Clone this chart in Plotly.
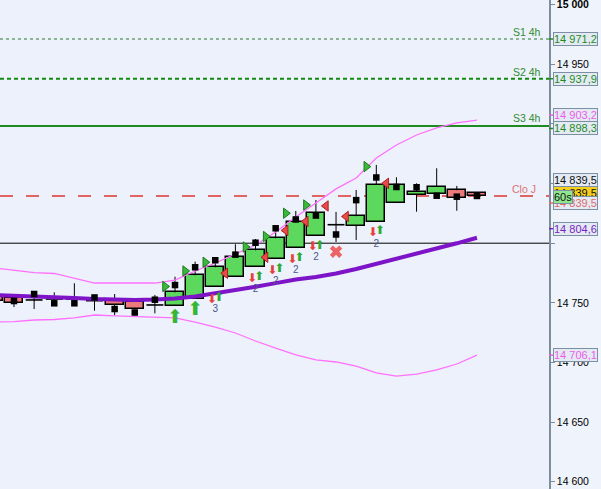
import plotly.graph_objects as go

# ---------------- data ----------------
idx = list(range(-1, 24))
opens = [14754.9, 14754.0, 14752.4, 14753.2, 14753.2, 14751.8, 14751.5, 14750.4, 14748.2, 14747.6,
         14753.0, 14763.0, 14771.4, 14779.8, 14786.5, 14795.7, 14806.3, 14815.5, 14814.7, 14818.0,
         14833.5, 14840.7, 14841.5, 14844.4, 14842.1]
closes = [14751.5, 14749.9, 14752.4, 14753.2, 14753.2, 14751.8, 14748.2, 14744.6, 14748.2, 14758.8,
          14773.1, 14779.8, 14788.2, 14794.0, 14804.1, 14817.5, 14825.1, 14815.5, 14822.6, 14848.8,
          14848.8, 14842.9, 14847.1, 14838.2, 14839.5]
highs = [14754.9, 14754.0, 14759.1, 14758.8, 14766.4, 14756.6, 14757.4, 14750.4, 14756.6, 14771.9,
         14784.5, 14785.9, 14799.1, 14803.5, 14812.5, 14827.0, 14836.2, 14826.2, 14844.6, 14865.6,
         14855.3, 14850.2, 14862.8, 14848.0, 14842.9]
lows = [14751.5, 14746.5, 14744.8, 14749.0, 14749.0, 14743.4, 14739.8, 14739.2, 14741.2, 14747.6,
        14753.0, 14763.0, 14771.4, 14779.8, 14786.5, 14795.7, 14806.3, 14801.0, 14802.7, 14818.0,
        14833.5, 14826.4, 14837.9, 14827.2, 14837.5]
squares = [None, 14751.5, 14757.4, 14749.6, 14749.6, 14754.5, 14744.8, 14741.9, 14752.6, 14764.9,
           14779.8, 14785.7, 14790.4, 14800.4, 14812.5, 14819.9, 14823.2, 14807.3, 14836.1, 14855.1,
           14847.1, 14846.9, 14839.8, 14839.0, 14839.6]
upper_band = [14779.2, 14777.5, 14775.4, 14774.6, 14770.8, 14766.6, 14766.6, 14766.6, 14766.6, 14769.1,
              14776.7, 14783.4, 14790.9, 14798.5, 14809.4, 14822.0, 14833.7, 14845.5, 14854.7, 14871.4,
              14882.3, 14890.7, 14896.6, 14900.8, 14903.2]
lower_band = [14733.9, 14734.3, 14735.6, 14736.0, 14737.3, 14739.8, 14739.0, 14738.4, 14738.1, 14737.3,
              14733.9, 14729.7, 14724.7, 14718.0, 14712.1, 14706.3, 14702.1, 14700.4, 14697.0, 14691.2,
              14688.6, 14690.3, 14693.7, 14698.7, 14706.1]
ma_line = [14756.6, 14756.1, 14755.3, 14754.9, 14754.0, 14753.2, 14752.4, 14752.4, 14752.8, 14753.6,
           14755.3, 14757.8, 14760.6, 14763.5, 14766.5, 14769.6, 14771.7, 14774.6, 14778.4, 14782.6,
           14787.3, 14791.5, 14795.7, 14799.9, 14804.6]

# signals
bull_tri_idx = [8, 9, 10, 12, 13, 14, 15, 18]
bull_tri_val = [14763.7, 14776.7, 14784.0, 14796.8, 14805.6, 14825.1, 14832.0, 14864.2]
bear_tri_idx = [10, 12, 13, 14, 15, 16, 18]
bear_tri_val = [14774.8, 14788.2, 14810.7, 14818.2, 14831.2, 14822.4, 14850.2]
pair_idx = [10, 12, 13, 14, 15, 18]
down_arrow_val = [14752.4, 14769.7, 14776.9, 14785.9, 14796.6, 14808.3]
up_arrow_val = [14753.8, 14771.4, 14778.4, 14787.3, 14797.9, 14810.2]
count_text = ["3", "2", "2", "2", "2", "2"]
count_val = [14744.0, 14761.3, 14767.7, 14776.9, 14787.8, 14799.1]
big_up_idx = [8, 9]
big_up_val = [14736.9, 14744.0]
cross_idx = [16]
cross_val = [14792.9]

level_names = ["S1 4h", "S2 4h", "S3 4h", "Clo J"]
level_vals = [14971.2, 14937.9, 14898.3, 14839.5]
round_line = 14800

tick_vals = [14600, 14650, 14700, 14750, 14800, 14850, 14900, 14950, 15000]
tick_text = ["14 600", "14 650", "14 700", "14 750", "", "14 850", "14 900", "14 950", "<b>15 000</b>"]

# axis label boxes
box_text = ["14 971,2", "14 937,9", "14 903,2", "14 898,3", "14 839,5", "14 839,5", "14 839,5", "60s", "14 804,6", "14 706,1"]
box_vals = [14971.2, 14937.9, 14903.2, 14898.3, 14839.5, 14839.5, 14839.5, 14839.5, 14804.6, 14706.1]

# ---------------- layout constants ----------------
Y0, Y1 = 14593.9, 15003.9
X0, X1 = -0.695, 26.58
W, H = 601, 489
PW = 549
upp = (Y1 - Y0) / H
xpu = (X1 - X0) / PW

box_colors = ["#1f8a1f", "#1f8a1f", "#ee5cee", "#1f8a1f", "#111111", "#111111", "#e06a6a", "#111111", "#7a1fc4", "#ee5cee"]
box_bg = ["#e3eaf3", "#e3eaf3", "#e3eaf3", "#e3eaf3", "#e3eaf3", "#f4cf1e", "#e3eaf3", "#8fe68f", "#e3eaf3", "#e3eaf3"]
box_shift = [0, 0, -5, 2.5, -16, -3, 7, 0.5, -9, 0]

fig = go.Figure()

# wicks
wx, wy = [], []
for i, o, c, h, l in zip(idx, opens, closes, highs, lows):
    top, bot = max(o, c), min(o, c)
    if h > top:
        wx += [i, i, None]; wy += [top, h, None]
    if l < bot:
        wx += [i, i, None]; wy += [bot, l, None]
fig.add_trace(go.Scatter(x=wx, y=wy, mode="lines", line=dict(color="black", width=1), hoverinfo="skip"))

# bodies
ux = [i for i, o, c in zip(idx, opens, closes) if c > o]
ub = [o for o, c in zip(opens, closes) if c > o]
uh = [c - o for o, c in zip(opens, closes) if c > o]
dx = [i for i, o, c in zip(idx, opens, closes) if c < o]
db = [c for o, c in zip(opens, closes) if c < o]
dh = [o - c for o, c in zip(opens, closes) if c < o]
fig.add_trace(go.Bar(x=ux, y=uh, base=ub, width=0.9, marker=dict(color="#5cd85c", line=dict(color="black", width=1.5)), hoverinfo="skip"))
fig.add_trace(go.Bar(x=dx, y=dh, base=db, width=0.9, marker=dict(color="#ec7a7a", line=dict(color="black", width=1.5)), hoverinfo="skip"))

# doji
jx, jy = [], []
for i, o, c in zip(idx, opens, closes):
    if o == c:
        jx += [i - 0.42, i + 0.42, None]; jy += [o, o, None]
fig.add_trace(go.Scatter(x=jx, y=jy, mode="lines", line=dict(color="black", width=1.6), hoverinfo="skip"))

# bands and average
fig.add_trace(go.Scatter(x=idx, y=upper_band, mode="lines", line=dict(color="#ff70ff", width=1.3), hoverinfo="skip"))
fig.add_trace(go.Scatter(x=idx, y=lower_band, mode="lines", line=dict(color="#ff70ff", width=1.3), hoverinfo="skip"))
fig.add_trace(go.Scatter(x=idx, y=ma_line, mode="lines", line=dict(color="#7d14c8", width=4), hoverinfo="skip"))

# squares
fig.add_trace(go.Scatter(x=idx, y=squares, mode="markers", marker=dict(symbol="square", size=6.5, color="black"), hoverinfo="skip"))

# triangles
fig.add_trace(go.Scatter(x=[i - 10 * xpu for i in bull_tri_idx], y=bull_tri_val, mode="markers",
                         marker=dict(symbol="triangle-right", size=9, color="#3cb83c", line=dict(color="#1d7a1d", width=1)), hoverinfo="skip"))
fig.add_trace(go.Scatter(x=[i + 10 * xpu for i in bear_tri_idx], y=bear_tri_val, mode="markers",
                         marker=dict(symbol="triangle-left", size=9, color="#e84a4a", line=dict(color="#b02020", width=1)), hoverinfo="skip"))

# small arrows
fig.add_trace(go.Scatter(x=[i - 3.5 * xpu for i in pair_idx], y=down_arrow_val, mode="text", text=["⬇"] * len(pair_idx),
                         textfont=dict(family="DejaVu Sans", size=12, color="#e84040"), hoverinfo="skip"))
fig.add_trace(go.Scatter(x=[i + 3.5 * xpu for i in pair_idx], y=up_arrow_val, mode="text", text=["⬆"] * len(pair_idx),
                         textfont=dict(family="DejaVu Sans", size=12, color="#2eaa2e"), hoverinfo="skip"))
fig.add_trace(go.Scatter(x=pair_idx, y=count_val, mode="text", text=count_text,
                         textfont=dict(family="Liberation Sans", size=10, color="#4a5888"), hoverinfo="skip"))
fig.add_trace(go.Scatter(x=big_up_idx, y=big_up_val, mode="text", text=["⬆"] * len(big_up_idx),
                         textfont=dict(family="DejaVu Sans", size=19, color="#36b536"), hoverinfo="skip"))
fig.add_trace(go.Scatter(x=cross_idx, y=cross_val, mode="markers",
                         marker=dict(symbol="x", size=11, color="#ec6464", line=dict(width=0)), hoverinfo="skip"))

# level lines
level_styles = [dict(color="#2a7a2a", width=1, dash="3px,3px"),
                dict(color="#128a12", width=2, dash="4px,3px"),
                dict(color="#1f8a1f", width=2),
                dict(color="#e06464", width=2, dash="13px,13px")]
shapes = []
for v, st in zip(level_vals, level_styles):
    shapes.append(dict(type="line", xref="paper", x0=0, x1=1, yref="y", y0=v, y1=v, line=st, layer="below"))
shapes.append(dict(type="line", xref="paper", x0=0, x1=1, yref="y", y0=round_line, y1=round_line,
                   line=dict(color="black", width=1), layer="below"))

annotations = []
name_colors = ["#2e8b2e", "#2e8b2e", "#2e8b2e", "#e07070"]
name_right = [543, 543, 543, 538]
name_up = [7, 7, 8, 7]
for n, v, col, xr, up in zip(level_names, level_vals, name_colors, name_right, name_up):
    annotations.append(dict(text=n, xref="paper", x=xr / PW, xanchor="right", yref="y", y=v + up * upp,
                            yanchor="middle", showarrow=False, font=dict(family="Liberation Sans", size=10.5, color=col)))

for t, v, col, bg, sh in zip(box_text, box_vals, box_colors, box_bg, box_shift):
    yc = v - sh * upp
    if col != "#111111" and bg == "#e3eaf3":
        shapes.append(dict(type="line", xref="paper", x0=1, x1=553 / PW, yref="y", y0=yc, y1=yc,
                           line=dict(color=col, width=1.5)))
    annotations.append(dict(text=t, xref="paper", x=553 / PW, xanchor="left", yref="y", y=yc, yanchor="middle",
                            showarrow=False, bgcolor=bg, bordercolor="#7d8fa2", borderwidth=1, borderpad=0,
                            font=dict(family="Liberation Sans", size=11, color=col)))

fig.update_layout(
    width=W, height=H,
    margin=dict(l=0, r=W - PW, t=0, b=0, autoexpand=False),
    paper_bgcolor="#eff3fc", plot_bgcolor="#edf1fb",
    showlegend=False, barmode="overlay", bargap=0,
    shapes=shapes, annotations=annotations,
    xaxis=dict(range=[X0, X1], visible=False, fixedrange=True),
    yaxis=dict(range=[Y0, Y1], side="right", showgrid=False, zeroline=False, automargin=False,
               tickvals=tick_vals, ticktext=tick_text, ticks="outside", ticklen=4,
               ticklabeloverflow="allow",
               tickcolor="#7d8d9d", showline=True, linecolor="#7d8d9d", linewidth=1.5,
               tickfont=dict(family="Liberation Sans", size=10.5, color="black")),
)

fig.write_html("out.html", config={"displayModeBar": False},
               post_script="document.body.style.margin='0';document.body.style.overflow='hidden';")
